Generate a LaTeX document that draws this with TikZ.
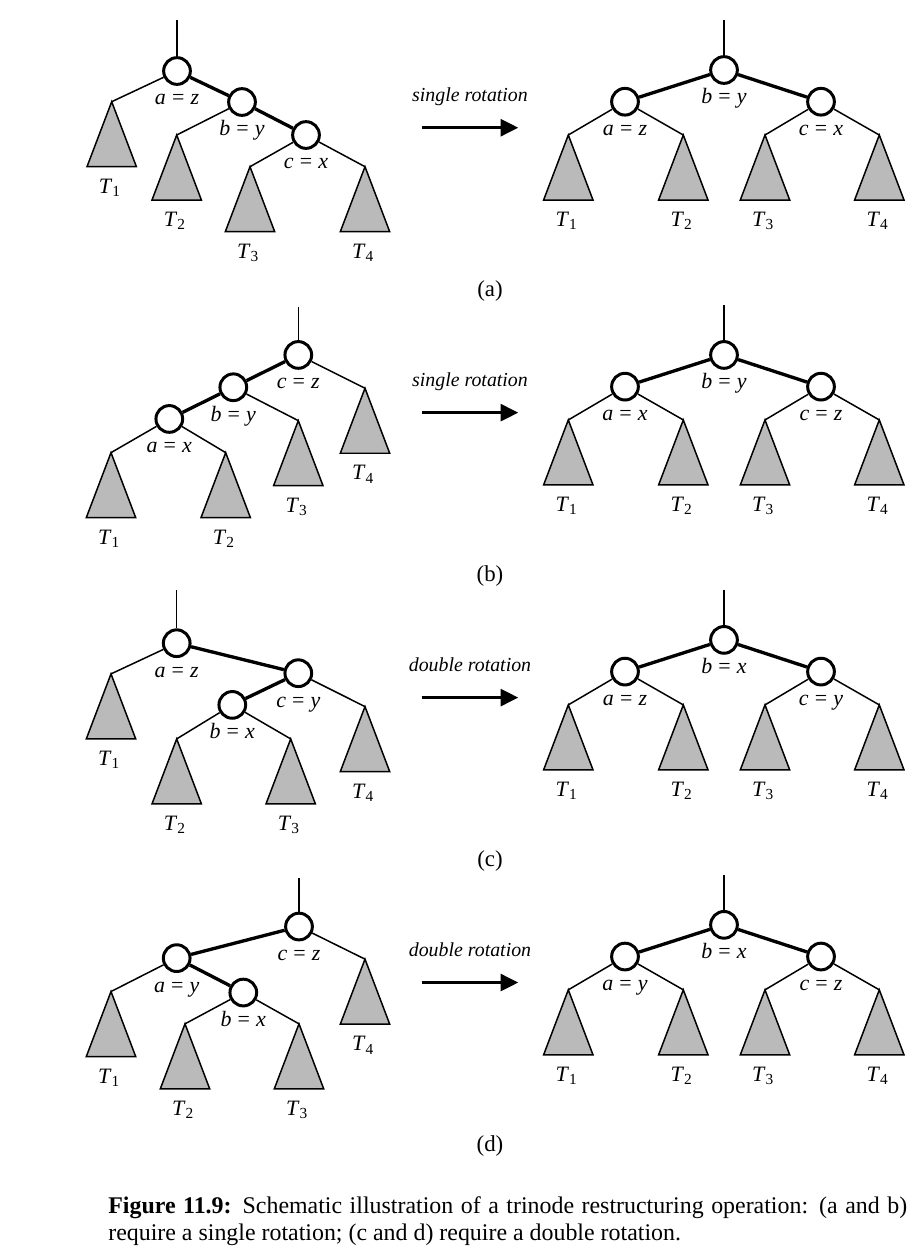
\documentclass[tikz,border=0pt]{standalone}
\usepackage{fontspec}
\setmainfont{Liberation Serif}
\usetikzlibrary{positioning,arrows.meta}

\newcommand{\eqlab}[2]{\textit{#1}\;=\;\textit{#2}}
\newcommand{\tsub}[1]{\textit{T}\textsubscript{#1}}
% subtree: name, apex, index
\newcommand{\subtree}[3]{%
  \coordinate (#1) at #2;
  \draw[sub] (#1) -- ++(-24.7,65) -- ++(49.4,0) -- cycle;
  \node[tlab] (#1l) at (#1) {\tsub{#3}};}

\begin{document}
\begin{tikzpicture}[
  x=0.02cm, y=-0.02cm,
  nd/.style={circle, draw, line width=1.7pt, fill=white, minimum size=15.2pt,
             inner sep=0pt},
  lab/.style={font=\fontsize{12.5}{14}\selectfont, anchor=base, yshift=-19.3pt,
              inner sep=0pt},
  tlab/.style={font=\fontsize{12.5}{14}\selectfont, anchor=base, yshift=-52.2pt,
               xshift=-1pt, inner sep=0pt},
  sub/.style={draw, line width=0.85pt, fill=black!27},
  ed/.style={line width=0.85pt},
  hv/.style={line width=1.9pt},
  rot/.style={font=\fontsize{11.3}{13}\selectfont\itshape, anchor=base},
  panlab/.style={font=\fontsize{13}{15}\selectfont, anchor=base},
  >={Triangle[length=10pt,width=9.5pt]}
]
\useasboundingbox (0,0) rectangle (915,1258);

% right-hand trees, arrows and panel labels
\foreach \p/\pl/\la/\lb/\lc/\kind in {0/a/z/y/x/single, 1/b/x/y/z/single,
                                      2/c/z/x/y/double, 3/d/y/x/z/double}{
\begin{scope}[yshift={-\p*5.7cm}]
  \coordinate (rtop\pl) at (724,20);
  \node[nd] (rb\pl) at (724,70) {};
  \node[nd] (ra\pl) at (625,101.7) {};
  \node[nd] (rc\pl) at (821,101.7) {};
  \node[lab] (rbl\pl) at (rb\pl) {\eqlab{b}{\lb}};
  \node[lab] (ral\pl) at (ra\pl) {\eqlab{a}{\la}};
  \node[lab] (rcl\pl) at (rc\pl) {\eqlab{c}{\lc}};
  \subtree{ro\pl}{(568.3,135)}{1}
  \subtree{rw\pl}{(683.3,135)}{2}
  \subtree{rh\pl}{(765,135)}{3}
  \subtree{rf\pl}{(879.3,135)}{4}
  \draw[ed] (rtop\pl) -- (rb\pl);
  \draw[hv] (ra\pl) -- (rb\pl) -- (rc\pl);
  \draw[ed] (ra\pl) -- (ro\pl);
  \draw[ed] (ra\pl) -- (rw\pl);
  \draw[ed] (rc\pl) -- (rh\pl);
  \draw[ed] (rc\pl) -- (rf\pl);
  \coordinate (as\pl) at (421.7,127.7);
  \coordinate (ae\pl) at (518.3,127.7);
  \draw[->, line width=1.9pt] (as\pl) -- (ae\pl);
  \node[rot] (kind\pl) at (470,101.7) {\kind{} rotation};
  \node[panlab] (pan\pl) at (490,296.5) {(\pl)};
\end{scope}}

% (a) left
\coordinate (top) at (177,20);
\node[nd] (na) at (177,71) {};
\node[nd] (nb) at (242,102) {};
\node[nd] (nc) at (306,135) {};
\node[lab] (la) at (na) {\eqlab{a}{z}};
\node[lab] (lb) at (nb) {\eqlab{b}{y}};
\node[lab] (lc) at (nc) {\eqlab{c}{x}};
\subtree{t1}{(111.7,101.7)}{1}
\subtree{t2}{(176.7,135)}{2}
\subtree{t3}{(250,166.7)}{3}
\subtree{t4}{(365,166.7)}{4}
\draw[ed] (top) -- (na);
\draw[hv] (na) -- (nb) -- (nc);
\draw[ed] (na) -- (t1);
\draw[ed] (nb) -- (t2);
\draw[ed] (nc) -- (t3);
\draw[ed] (nc) -- (t4);

% (b) left
\begin{scope}[yshift=-5.7cm]
\coordinate (topb) at (298.3,21.7);
\node[nd] (ncb) at (298.3,70) {};
\node[nd] (nbb) at (233.3,102.3) {};
\node[nd] (nab) at (169.3,134) {};
\node[lab] (lcb) at (ncb) {\eqlab{c}{z}};
\node[lab] (lbb) at (nbb) {\eqlab{b}{y}};
\node[lab] (lxb) at (nab) {\eqlab{a}{x}};
\subtree{t1b}{(111,167.7)}{1}
\subtree{t2b}{(225.7,167.7)}{2}
\subtree{t3b}{(298.3,135.7)}{3}
\subtree{t4b}{(365,103.3)}{4}
\draw[ed] (topb) -- (ncb);
\draw[hv] (ncb) -- (nbb) -- (nab);
\draw[ed] (nab) -- (t1b);
\draw[ed] (nab) -- (t2b);
\draw[ed] (nbb) -- (t3b);
\draw[ed] (ncb) -- (t4b);
\end{scope}

% (c) left
\begin{scope}[yshift=-11.4cm]
\coordinate (topc) at (176.7,20);
\node[nd] (nac) at (176.7,73.3) {};
\node[nd] (ncc) at (298.3,103.3) {};
\node[nd] (nbc) at (232.3,135) {};
\node[lab] (lac) at (nac) {\eqlab{a}{z}};
\node[lab] (lcc) at (ncc) {\eqlab{c}{y}};
\node[lab] (lbc) at (nbc) {\eqlab{b}{x}};
\subtree{t1c}{(111,104)}{1}
\subtree{t2c}{(176.7,169)}{2}
\subtree{t3c}{(290.7,169)}{3}
\subtree{t4c}{(365,136.7)}{4}
\draw[ed] (topc) -- (nac);
\draw[hv] (nac) -- (ncc) -- (nbc);
\draw[ed] (nac) -- (t1c);
\draw[ed] (nbc) -- (t2c);
\draw[ed] (nbc) -- (t3c);
\draw[ed] (ncc) -- (t4c);
\end{scope}

% (d) left
\begin{scope}[yshift=-17.1cm]
\coordinate (topd) at (299,23);
\node[nd] (ncd) at (299,71.7) {};
\node[nd] (nad) at (176.7,103.3) {};
\node[nd] (nbd) at (243.3,137.7) {};
\node[lab] (lcd) at (ncd) {\eqlab{c}{z}};
\node[lab] (lad) at (nad) {\eqlab{a}{y}};
\node[lab] (lbd) at (nbd) {\eqlab{b}{x}};
\subtree{t1d}{(111,136.7)}{1}
\subtree{t2d}{(185,169)}{2}
\subtree{t3d}{(299,169)}{3}
\subtree{t4d}{(365,104.3)}{4}
\draw[ed] (topd) -- (ncd);
\draw[hv] (ncd) -- (nad) -- (nbd);
\draw[ed] (nad) -- (t1d);
\draw[ed] (nbd) -- (t2d);
\draw[ed] (nbd) -- (t3d);
\draw[ed] (ncd) -- (t4d);
\end{scope}

% caption
\node[font=\fontsize{13.6}{15.3}\selectfont, text width=15.98cm, align=justify,
      inner sep=0pt, anchor=north west] (caption) at (108,1196)
  {\textbf{Figure 11.9:} Schematic illustration of a trinode restructuring
   operation: (a and b)\linebreak require a single rotation; (c and d) require
   a double rotation.};
\end{tikzpicture}
\end{document}
